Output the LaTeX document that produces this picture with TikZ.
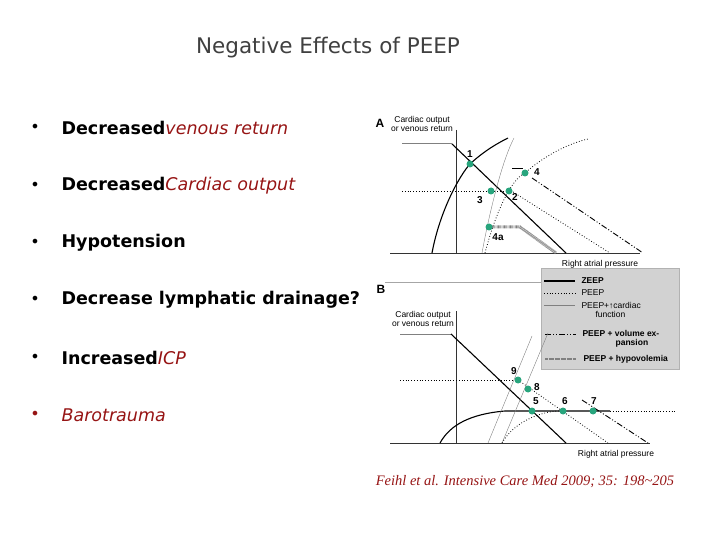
\documentclass[tikz,border=0pt]{standalone}
\usepackage{fontspec}
\setmainfont{DejaVu Sans}
\newfontfamily\serifc{Liberation Serif}
\newfontfamily\smf{Liberation Sans}
\newfontfamily\titlef{DejaVu Sans}
\begin{document}
\begin{tikzpicture}[x=1pt,y=-1pt,
  bul/.style={anchor=west,font=\fontsize{17.5}{20}\selectfont\bfseries},
  dotn/.style={circle,fill={rgb,255:red,40;green,165;blue,125},inner sep=0pt,minimum size=7pt},
  lab/.style={font=\smf\fontsize{10}{10}\selectfont\bfseries},
  sm/.style={font=\smf\fontsize{8.5}{9}\selectfont,align=left},
  smb/.style={font=\smf\bfseries\fontsize{8.5}{9.5}\selectfont,align=left},
  ax/.style={line width=0.6pt,black!80},
  zeep/.style={line width=1.1pt},
  peep/.style={line width=0.8pt,dotted},
  card/.style={line width=0.4pt,gray},
  vol/.style={line width=0.9pt,dash pattern=on 6pt off 2pt on 1pt off 2pt on 1pt off 2pt},
  hypo/.style={line width=3pt,gray,dash pattern=on 0.6pt off 0.6pt}]
\useasboundingbox (0,0) rectangle (720,540);
\definecolor{dred}{RGB}{150,20,20}
\node[font=\titlef\fontsize{21.5}{22}\selectfont,text=black!75] (title) at (328,48) {Negative Effects of PEEP};
\foreach \y/\t [count=\i] in {128/{Decreased\textcolor{dred}{\mdseries\itshape venous return}},186/{Decreased\textcolor{dred}{\mdseries\itshape Cardiac output}},243/{Hypotension},300/{Decrease lymphatic drainage?},358/{Increased\textcolor{dred}{\mdseries\itshape ICP}}}{
  \node[bul] (b\i) at (58,\y) {\t};
  \node[font=\fontsize{16}{16}\selectfont] (d\i) at (35,\y) {•};
}
\node[bul,text=dred] (b6) at (58,415) {\mdseries\itshape Barotrauma};
\node[font=\fontsize{16}{16}\selectfont,text=dred] (d6) at (35,415) {•};
\node[font=\serifc\itshape\fontsize{14.5}{14}\selectfont,text=dred] (cite) at (525,482) {Feihl et al. Intensive Care Med 2009; 35: 198\textasciitilde205};
% Panel A
\node[font=\smf\bfseries\fontsize{12}{12}\selectfont] (A) at (380,123) {A};
\node[sm,align=center] (yA) at (422,124) {Cardiac output\\or venous return};
\node[sm] (xA) at (600,264) {Right atrial pressure};
\draw[ax] (456,130) -- (456,253);
\draw[ax] (390,253) -- (640,253);
\draw[gray,line width=1pt] (402,144) -- (452,144);
\draw[zeep] (452,144) -- (566,253);
\draw[zeep] (432,253) .. controls (440,210) and (460,175) .. (470,164) .. controls (485,150) and (500,142) .. (508,138);
\draw[card] (482,253) .. controls (487,225) and (500,165) .. (514,138);
\draw[peep] (485,253) .. controls (495,215) and (510,180) .. (525,173) .. controls (545,155) and (570,143) .. (588,139);
\draw[peep] (402,191) -- (509,191);
\draw[peep] (513,192) -- (610,253);
\draw[line width=1pt] (512,169) -- (523,169);
\draw[vol] (532,178) -- (643,253);
\draw[hypo] (491,227) -- (520,227) -- (556,253);
\node[dotn] (p1) at (470,164) {};
\node[dotn] (p3) at (491,191) {};
\node[dotn] (p2) at (509,191) {};
\node[dotn] (p4) at (525,173) {};
\node[dotn] (p4a) at (489,227) {};
\node[lab] (l1) at (470,154) {1};
\node[lab] (l3) at (480,200) {3};
\node[lab] (l2) at (515,197) {2};
\node[lab] (l4) at (537,172) {4};
\node[lab] (l4a) at (498,237) {4a};
% separator
\draw[gray!70,line width=0.4pt] (385,282) -- (541,282);
% Legend
\draw[fill=gray!35,draw=gray!60] (541,268) rectangle (679,369);
\draw[zeep] (544,281) -- (575,281);
\draw[peep,line width=0.5pt] (544,293) -- (575,293);
\draw[card] (544,305) -- (575,305);
\draw[vol] (545,334) -- (576,334);
\draw[hypo,line width=2pt] (545,359) -- (576,359);
\node[smb,anchor=west] (g1) at (578,281) {ZEEP};
\node[sm,anchor=west] (g2) at (578,293) {PEEP};
\node[sm,anchor=west] (g3) at (578,310) {PEEP+↑cardiac\\\hspace*{14pt}function};
\node[smb,anchor=west,align=center] (g4) at (579,339) {PEEP + volume ex-\\\hspace*{22pt}pansion};
\node[smb,anchor=west] (g5) at (580,359) {PEEP + hypovolemia};
% Panel B
\node[font=\smf\bfseries\fontsize{12}{12}\selectfont] (B) at (381,289) {B};
\node[sm,align=center] (yB) at (423,319) {Cardiac output\\or venous return};
\node[sm] (xB) at (616,454) {Right atrial pressure};
\draw[ax] (456,311) -- (456,443);
\draw[ax] (390,443) -- (650,443);
\draw[gray,line width=1pt] (400,334) -- (451,334);
\draw[zeep] (451,334) -- (566,443);
\draw[zeep] (440,443) .. controls (450,425) and (470,414) .. (505,411) -- (610,411);
\draw[peep] (610,411) -- (675,411);
\draw[card] (488,443) -- (532,336);
\draw[card] (502,443) -- (548,333);
\draw[peep] (502,443) .. controls (515,420) and (545,410) .. (563,411);
\draw[peep] (400,380) -- (518,380);
\draw[peep] (518,380) -- (608,443);
\draw[vol] (582,400) -- (648,443);
\node[dotn] (p9) at (518,380) {};
\node[dotn] (p8) at (528,389) {};
\node[dotn] (p5) at (532,411) {};
\node[dotn] (p6) at (563,411) {};
\node[dotn] (p7) at (593,411) {};
\node[lab] (l9) at (514,371) {9};
\node[lab] (l8) at (537,387) {8};
\node[lab] (l5) at (536,401) {5};
\node[lab] (l6) at (565,401) {6};
\node[lab] (l7) at (594,401) {7};
\end{tikzpicture}
\end{document}
